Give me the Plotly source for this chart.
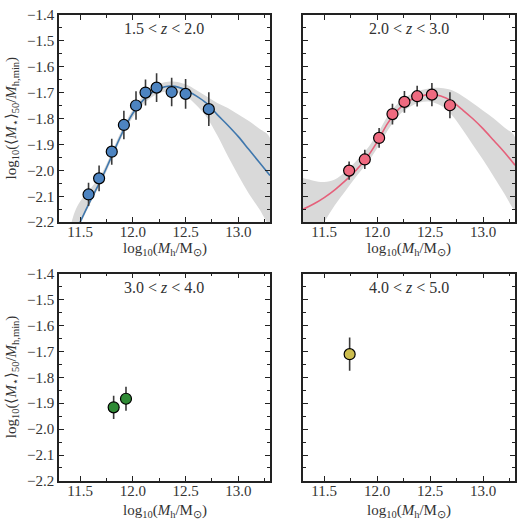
import plotly.graph_objects as go

# ---------------- data ----------------
# Panel 1: 1.5 < z < 2.0
p1_x = [11.58, 11.68, 11.80, 11.915, 12.03, 12.12, 12.225, 12.368, 12.50, 12.72]
p1_y = [-2.093, -2.031, -1.928, -1.825, -1.750, -1.700, -1.681, -1.698, -1.705, -1.764]
p1_err = [0.045, 0.050, 0.050, 0.055, 0.055, 0.050, 0.055, 0.055, 0.057, 0.065]
fit1_x = [11.40, 11.45, 11.50, 11.60, 11.70, 11.80, 11.90, 12.00, 12.10, 12.20, 12.30, 12.40,
          12.50, 12.60, 12.70, 12.80, 12.90, 13.00, 13.10, 13.20, 13.30]
fit1_y = [-2.29, -2.245, -2.20, -2.115, -2.035, -1.945, -1.855, -1.780, -1.728, -1.695, -1.678,
          -1.676, -1.690, -1.713, -1.742, -1.785, -1.826, -1.870, -1.920, -1.970, -2.020]
band1_hi = [-2.23, -2.16, -2.12, -2.07, -2.015, -1.930, -1.840, -1.765, -1.712, -1.678, -1.660,
            -1.658, -1.668, -1.690, -1.715, -1.740, -1.760, -1.785, -1.810, -1.840, -1.875]
band1_lo = [-2.30, -2.26, -2.21, -2.125, -2.048, -1.958, -1.868, -1.795, -1.745, -1.712, -1.697,
            -1.698, -1.712, -1.748, -1.795, -1.865, -1.945, -2.020, -2.090, -2.150, -2.210]

# Panel 2: 2.0 < z < 3.0
p2_x = [11.735, 11.883, 12.018, 12.144, 12.257, 12.377, 12.516, 12.686]
p2_y = [-2.001, -1.958, -1.875, -1.783, -1.736, -1.714, -1.708, -1.749]
p2_err = [0.035, 0.037, 0.038, 0.040, 0.042, 0.040, 0.045, 0.050]
fit2_x = [11.30, 11.40, 11.50, 11.60, 11.70, 11.80, 11.90, 12.00, 12.10, 12.20, 12.30, 12.40,
          12.50, 12.60, 12.70, 12.80, 12.90, 13.00, 13.10, 13.20, 13.30]
fit2_y = [-2.150, -2.130, -2.105, -2.075, -2.040, -2.000, -1.952, -1.890, -1.818, -1.765, -1.732,
          -1.714, -1.708, -1.713, -1.732, -1.765, -1.800, -1.840, -1.885, -1.930, -1.980]
band2_hi = [-2.030, -2.040, -2.045, -2.035, -2.005, -1.965, -1.920, -1.860, -1.790, -1.740, -1.710,
            -1.692, -1.683, -1.682, -1.690, -1.712, -1.740, -1.770, -1.800, -1.835, -1.872]
band2_lo = [-2.330, -2.270, -2.200, -2.135, -2.080, -2.025, -1.975, -1.915, -1.845, -1.790, -1.757,
            -1.738, -1.735, -1.750, -1.785, -1.840, -1.900, -1.960, -2.025, -2.090, -2.150]

# Panel 3: 3.0 < z < 4.0
p3_x = [11.818, 11.935]
p3_y = [-1.916, -1.883]
p3_err = [0.045, 0.046]

# Panel 4: 4.0 < z < 5.0
p4_x = [11.74]
p4_y = [-1.711]
p4_err = [0.064]

labels = ["1.5 &lt; <i>z</i> &lt; 2.0", "2.0 &lt; <i>z</i> &lt; 3.0",
          "3.0 &lt; <i>z</i> &lt; 4.0", "4.0 &lt; <i>z</i> &lt; 5.0"]
x_ticks = [11.5, 12.0, 12.5, 13.0]
x_ticktext = ["11.5", "12.0", "12.5", "13.0"]

# ---------------- figure ----------------
W, H = 521, 519
FONT = "Liberation Serif, Times New Roman, serif"
TXT = "#333"
fig = go.Figure()

doms_x = [[59 / W, 270 / W], [303 / W, 515 / W]]
doms_y = [[1 - 221 / H, 1 - 7 / H], [1 - 488 / H, 1 - 274 / H]]

panels = [
    dict(px=p1_x, py=p1_y, pe=p1_err, fx=fit1_x, fy=fit1_y, hi=band1_hi, lo=band1_lo,
         mc="#4d84c1", lc="#3f77ad", r=0, c=0),
    dict(px=p2_x, py=p2_y, pe=p2_err, fx=fit2_x, fy=fit2_y, hi=band2_hi, lo=band2_lo,
         mc="#ef6a80", lc="#e5607a", r=0, c=1),
    dict(px=p3_x, py=p3_y, pe=p3_err, mc="#2f8a35", r=1, c=0),
    dict(px=p4_x, py=p4_y, pe=p4_err, mc="#ccbd4e", r=1, c=1),
]

xt = "log<sub>10</sub>(<i>M</i><sub>h</sub>/M<sub>⊙</sub>)"
yt = "log<sub>10</sub>(⟨<i>M</i><sub>⋆</sub>⟩<sub>50</sub>/<i>M</i><sub>h,min</sub>)"

for i, p in enumerate(panels):
    n = i + 1
    xa = "x" if n == 1 else f"x{n}"
    ya = "y" if n == 1 else f"y{n}"
    if "fx" in p:
        fig.add_trace(go.Scatter(
            x=p["fx"] + p["fx"][::-1], y=p["hi"] + p["lo"][::-1],
            fill="toself", fillcolor="#d9d9d9", line=dict(width=0), mode="lines",
            line_shape="spline", hoverinfo="skip", showlegend=False, xaxis=xa, yaxis=ya))
        fig.add_trace(go.Scatter(
            x=p["fx"], y=p["fy"], mode="lines", line=dict(color=p["lc"], width=1.6),
            line_shape="spline", showlegend=False, xaxis=xa, yaxis=ya))
    fig.add_trace(go.Scatter(
        x=p["px"], y=p["py"], mode="markers",
        error_y=dict(type="data", array=p["pe"], color="#3a3a3a", thickness=1.6, width=0),
        marker=dict(size=11, color=p["mc"], line=dict(color="black", width=1.2)),
        showlegend=False, xaxis=xa, yaxis=ya))

    axx = dict(domain=doms_x[p["c"]], range=[11.3, 13.3], anchor=ya,
               tickvals=x_ticks, ticktext=x_ticktext, ticklabelstandoff=-5,
               ticks="inside", ticklen=5, tickwidth=1, tickcolor="#222",
               minor=dict(dtick=0.25, tick0=11.25, ticks="inside", ticklen=3, tickcolor="#222", tickwidth=1),
               showline=True, linecolor="#222", linewidth=1.5, mirror="ticks",
               showgrid=False, zeroline=False,
               tickfont=dict(family=FONT, size=15, color=TXT))
    axy = dict(domain=doms_y[p["r"]], range=[-2.2, -1.4], anchor=xa,
               dtick=0.1, tick0=-2.2, tickformat=".1f",
               ticks="inside", ticklen=5, tickwidth=1, tickcolor="#222",
               minor=dict(dtick=0.05, tick0=-2.2, ticks="inside", ticklen=3, tickcolor="#222", tickwidth=1),
               showline=True, linecolor="#222", linewidth=1.5, mirror="ticks",
               showgrid=False, zeroline=False,
               showticklabels=(p["c"] == 0),
               tickfont=dict(family=FONT, size=15, color=TXT))
    fig.layout["xaxis" if n == 1 else f"xaxis{n}"] = axx
    fig.layout["yaxis" if n == 1 else f"yaxis{n}"] = axy

    fig.add_annotation(text=labels[i], xref=f"{xa} domain", yref=f"{ya} domain",
                       x=0.5, y=0.935, showarrow=False, xanchor="center", yanchor="middle",
                       font=dict(family=FONT, size=16, color=TXT))

    # axis titles as annotations
    xc = (doms_x[p["c"]][0] + doms_x[p["c"]][1]) / 2
    xt_top = 237 if p["r"] == 0 else 508
    fig.add_annotation(text=xt, xref="paper", yref="paper", x=xc, y=1 - xt_top / H,
                       xanchor="center", yanchor="top", showarrow=False,
                       font=dict(family=FONT, size=15, color=TXT))
    if p["c"] == 0:
        yc = (doms_y[p["r"]][0] + doms_y[p["r"]][1]) / 2
        fig.add_annotation(text=yt, xref="paper", yref="paper", x=1 / W, y=yc,
                           xanchor="left", yanchor="middle", textangle=-90, showarrow=False,
                           font=dict(family=FONT, size=15, color=TXT))

fig.update_layout(width=W, height=H, margin=dict(l=0, r=0, t=0, b=0),
                  plot_bgcolor="white", paper_bgcolor="white")
fig.write_html("out.html")
